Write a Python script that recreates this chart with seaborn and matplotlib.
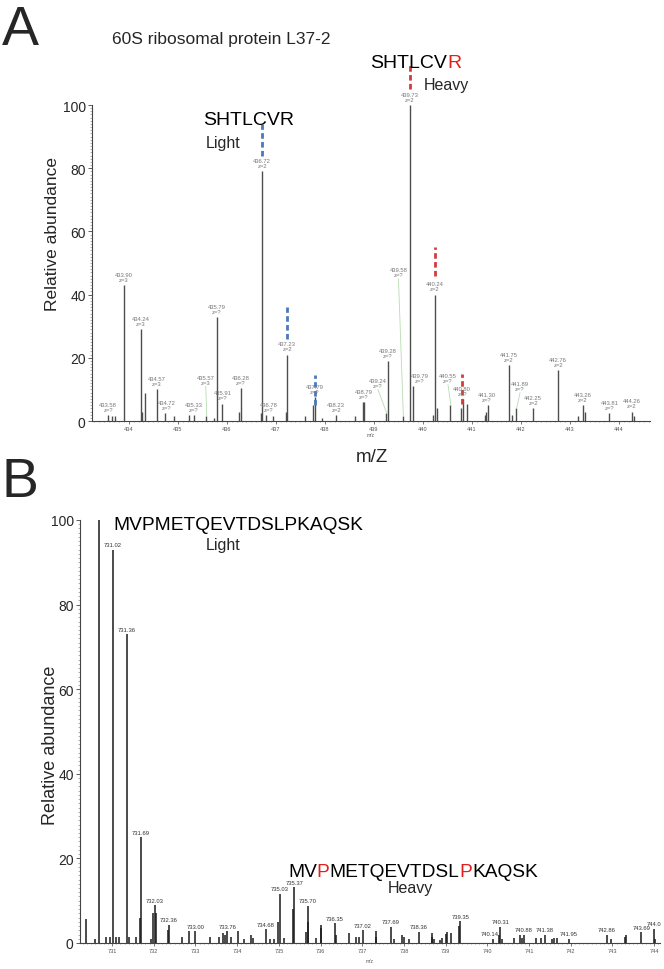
import matplotlib
matplotlib.use("Agg")
import matplotlib.pyplot as plt
from matplotlib.text import Annotation
from matplotlib.ticker import MultipleLocator
import seaborn as sns

# ---------------- data: panel A (60S ribosomal protein L37-2) ----------------
a_mz = [433.57, 433.65, 433.72, 433.90, 434.24, 434.27, 434.34, 434.58, 434.73, 434.92,
        435.22, 435.34, 435.58, 435.73, 435.79, 435.91, 436.24, 436.28, 436.69, 436.72,
        436.79, 436.94, 437.20, 437.23, 437.59, 437.75, 437.79, 437.94, 438.23, 438.61,
        438.78, 438.80, 439.24, 439.28, 439.60, 439.73, 439.79, 440.20, 440.24, 440.29,
        440.56, 440.77, 440.82, 440.90, 441.26, 441.29, 441.32, 441.75, 441.81, 441.90,
        442.25, 442.76, 443.17, 443.26, 443.30, 443.80, 444.27, 444.31]
a_int = [2.0, 1.5, 1.5, 43, 29, 3, 9, 10, 2.5, 1.5,
         2, 2, 1.5, 1, 33, 5.5, 3, 10.5, 2.5, 79,
         2, 1.5, 3, 21, 1.5, 5, 7.5, 1, 2, 1.5,
         6, 6, 2.5, 19, 1.5, 100, 11, 2, 40, 4,
         5, 4, 7, 5.5, 2, 3, 5, 17.7, 2, 4,
         4, 16, 1.5, 5, 3, 2.5, 3, 1.5]

# annotated centroids: label value, charge, intensity of the labelled peak
a_lab_mz = [433.58, 433.90, 434.24, 434.57, 434.72, 435.33, 435.57, 435.79, 435.91, 436.28,
            436.72, 436.78, 437.23, 437.79, 438.23, 438.79, 439.24, 439.28, 439.58, 439.73,
            439.79, 440.24, 440.55, 440.80, 441.30, 441.75, 441.89, 442.25, 442.76, 443.26,
            443.81, 444.26]
a_lab_z = ["?", "3", "3", "3", "?", "?", "3", "?", "?", "?",
           "2", "?", "2", "?", "2", "?", "?", "?", "?", "2",
           "?", "2", "?", "?", "?", "2", "?", "2", "2", "2",
           "?", "2"]
a_lab_int = [2.0, 43, 29, 10, 2.5, 2, 1.5, 33, 5.5, 10.5,
             79, 2, 21, 7.5, 2, 6, 2.5, 19, 1.5, 100,
             11, 40, 5, 7, 5, 17.7, 4, 4, 16, 5,
             2.5, 3]
# labels drawn away from their peak (joined by a leader line): label m/z -> (x, y) of text
a_leader = {435.57: (435.57, 11.5), 439.24: (439.08, 10.5), 439.58: (439.50, 45.5),
            440.55: (440.51, 12.0), 441.89: (441.98, 9.5)}
a_lab_shift = {434.72: 0.06, 436.78: 0.08, 439.79: 0.14}

# isotope envelope markers (light = blue, heavy = red)
a_mark_mz = [436.72, 437.23, 437.79, 439.73, 440.24, 440.80]
a_mark_lo = [84, 26, 5, 105, 46, 5.5]
a_mark_hi = [94, 36, 14.5, 113, 55, 15]
a_mark_col = ["#4a78b8", "#4a78b8", "#4a78b8", "#d23c3c", "#d23c3c", "#d23c3c"]

# ---------------- data: panel B (MVPMETQEVTDSLPKAQSK) ----------------
b_mz = [730.38, 730.59, 730.69, 730.85, 730.95, 731.02, 731.10, 731.17, 731.36, 731.41,
        731.57, 731.67, 731.69, 731.93, 731.98, 732.03, 732.06, 732.34, 732.36, 732.67,
        732.85, 733.00, 733.34, 733.56, 733.65, 733.70, 733.76, 733.85, 734.01, 734.16,
        734.33, 734.38, 734.68, 734.78, 734.88, 734.99, 735.03, 735.12, 735.33, 735.37,
        735.66, 735.69, 735.70, 735.90, 736.00, 736.02, 736.35, 736.38, 736.67, 736.84,
        736.93, 737.02, 737.32, 737.34, 737.69, 737.75, 737.96, 738.00, 738.11, 738.36,
        738.66, 738.68, 738.72, 738.87, 738.92, 739.00, 739.03, 739.12, 739.33, 739.35,
        740.14, 740.28, 740.31, 740.36, 740.64, 740.78, 740.83, 740.88, 741.17, 741.29,
        741.38, 741.54, 741.60, 741.67, 741.95, 742.86, 742.97, 743.30, 743.32, 743.69,
        744.00, 744.03]
b_int = [5.7, 1.0, 100, 1.5, 1.5, 93, 1.5, 1.4, 73, 1.5,
         1.5, 5.8, 25, 1.0, 7, 8.9, 7, 3, 4.3, 1.5,
         2.8, 2.8, 1.5, 1.5, 2.4, 1.8, 2.8, 1.5, 2.8, 1.0,
         1.8, 1.3, 3.3, 1.0, 1.0, 5, 11.6, 1.3, 8, 13.2,
         2.5, 5, 8.8, 1.3, 4.2, 3.5, 4.7, 2, 2.3, 1.5,
         1.5, 3, 1.5, 2.8, 3.8, 1.0, 2, 1.5, 1.0, 2.7,
         2.3, 1.5, 1.0, 0.8, 1.3, 2.2, 2.5, 2.3, 4, 5.1,
         1.0, 2, 3.8, 1.0, 1.3, 1.8, 1.2, 2, 1.3, 1.2,
         2, 1.0, 1.3, 1.3, 1.0, 2, 1.0, 1.5, 2, 2.5,
         3.4, 1.0]
b_lab = ["731.02", "731.36", "731.69", "732.03", "732.36", "733.00", "733.76", "734.68",
         "735.03", "735.37", "735.70", "736.35", "737.02", "737.69", "738.36", "739.35",
         "740.14", "740.31", "740.88", "741.38", "741.95", "742.86", "743.69", "744.0"]
b_lab_int = [93, 73, 25, 8.9, 4.3, 2.8, 2.8, 3.3,
             11.6, 13.2, 8.8, 4.7, 3, 3.8, 2.7, 5.1,
             1.0, 3.8, 2, 2, 1.0, 2, 2.5, 3.4]
b_lab_shift = {"740.14": -0.09}

a_xticks = list(range(434, 445))
b_xticks = list(range(731, 745))
y_ticks = [0, 20, 40, 60, 80, 100]

# ---------------- figure ----------------
sns.set_style("ticks")
plt.rcParams["font.family"] = ["Liberation Sans", "DejaVu Sans"]

W, H = 664, 970
fig = plt.figure(figsize=(W / 100, H / 100), dpi=100)


def fx(px):
    return px / W


def fy(py):
    return 1 - py / H


axA = fig.add_axes([fx(92), fy(422), (650 - 92) / W, (422 - 106) / H])
axB = fig.add_axes([fx(80), fy(944), (660 - 80) / W, (944 - 521) / H])


def style_axis(ax, xticks, xlim):
    sns.despine(ax=ax)
    for s in ["left", "bottom"]:
        ax.spines[s].set_linewidth(0.8)
        ax.spines[s].set_color("#444444")
    ax.set_xlim(*xlim)
    ax.set_ylim(0, 100)
    ax.set_yticks(y_ticks)
    ax.set_xticks(xticks)
    ax.yaxis.set_minor_locator(MultipleLocator(1))
    ax.xaxis.set_minor_locator(MultipleLocator(0.1))
    ax.tick_params(axis="y", which="major", labelsize=10, length=3, width=0.6, pad=1.5,
                   color="#444444")
    ax.tick_params(axis="y", which="minor", length=1.5, width=0.4, color="#777777")
    ax.tick_params(axis="x", which="major", labelsize=4, length=2, width=0.5, pad=1.5,
                   color="#444444", labelcolor="#555555")
    ax.tick_params(axis="x", which="minor", length=1.0, width=0.4, color="#777777")
    ax.set_xlabel("")
    ax.set_ylabel("")


# ---- panel A ----
style_axis(axA, a_xticks, (433.25, 444.63))
axA.vlines(a_mz, 0, a_int, color="#4d4d4d", lw=1.0)

for mz, z, h in zip(a_lab_mz, a_lab_z, a_lab_int):
    txt = f"{mz:.2f}\nz={z}"
    if mz in a_leader:
        lx, ly = a_leader[mz]
        axA.text(lx, ly, txt, ha="center", va="bottom", fontsize=4.2, color="#777777",
                 linespacing=1.0)
        axA.plot([lx, mz + 0.02], [ly - 0.5, h], color="#b7dcb0", lw=0.6)
    else:
        lx = mz + a_lab_shift.get(mz, 0)
        axA.text(lx, h + 1.0, txt, ha="center", va="bottom", fontsize=4.2, color="#777777",
                 linespacing=1.0, clip_on=False)

axA.vlines(a_mark_mz, a_mark_lo, a_mark_hi, colors=a_mark_col, lw=2.0,
           linestyles=(0, (2.0, 1.2)), clip_on=False)
axA.text(0.5, -0.035, "m/z", transform=axA.transAxes, ha="center", va="top",
         fontsize=3.5, color="#555555")

# ---- panel B ----
style_axis(axB, b_xticks, (730.23, 744.14))
axB.vlines(b_mz, 0, b_int, color="#1a1a1a", lw=1.1)
for lab, h in zip(b_lab, b_lab_int):
    axB.text(float(lab) + b_lab_shift.get(lab, 0), h + 0.6, lab, ha="center", va="bottom",
             fontsize=4.2, color="#333333", clip_on=False)
axB.text(0.5, -0.035, "m/z", transform=axB.transAxes, ha="center", va="top",
         fontsize=3.5, color="#555555")

# ---------------- figure-level text ----------------
fig.text(fx(2), fy(45), "A", fontsize=40, ha="left", va="baseline")
fig.text(fx(2), fy(497), "B", fontsize=40, ha="left", va="baseline")
fig.text(fx(112), fy(44), "60S ribosomal protein L37-2", fontsize=12.5, va="baseline")
fig.text(fx(53), fy(234), "Relative abundance", fontsize=12.5, rotation=90,
         ha="center", va="center")
fig.text(fx(51), fy(745), "Relative abundance", fontsize=13, rotation=90,
         ha="center", va="center")
fig.text(fx(372), fy(462), "m/Z", fontsize=13.5, ha="center", va="baseline")


def seq_text(x, y, parts, size):
    # peptide sequence with labelled residues in red, parts chained left to right
    prev = fig.text(x, y, parts[0][0], color=parts[0][1], fontsize=size,
                    ha="left", va="baseline")
    for s, c in parts[1:]:
        prev = fig.add_artist(Annotation(s, xy=(1, 0), xycoords=prev, color=c,
                                         fontsize=size, ha="left", va="bottom"))
    return prev


black, red = "black", "#e0201c"
seq_text(fx(203), fy(125), [("SHTLCVR", black)], 14)
fig.text(fx(206), fy(148), "Light", fontsize=11.5, va="baseline")
seq_text(fx(370), fy(68), [("SHTLCV", black), ("R", red)], 14)
fig.text(fx(424), fy(90), "Heavy", fontsize=11.5, va="baseline")

seq_text(fx(113), fy(530), [("MVPMETQEVTDSLPKAQSK", black)], 13.8)
fig.text(fx(206), fy(550), "Light", fontsize=11.5, va="baseline")
seq_text(fx(288), fy(877), [("MV", black), ("P", red), ("METQEVTDSL", black),
                            ("P", red), ("KAQSK", black)], 13.8)
fig.text(fx(388), fy(893), "Heavy", fontsize=11.5, va="baseline")

fig.savefig("out.png", dpi=100)
plt.close(fig)
